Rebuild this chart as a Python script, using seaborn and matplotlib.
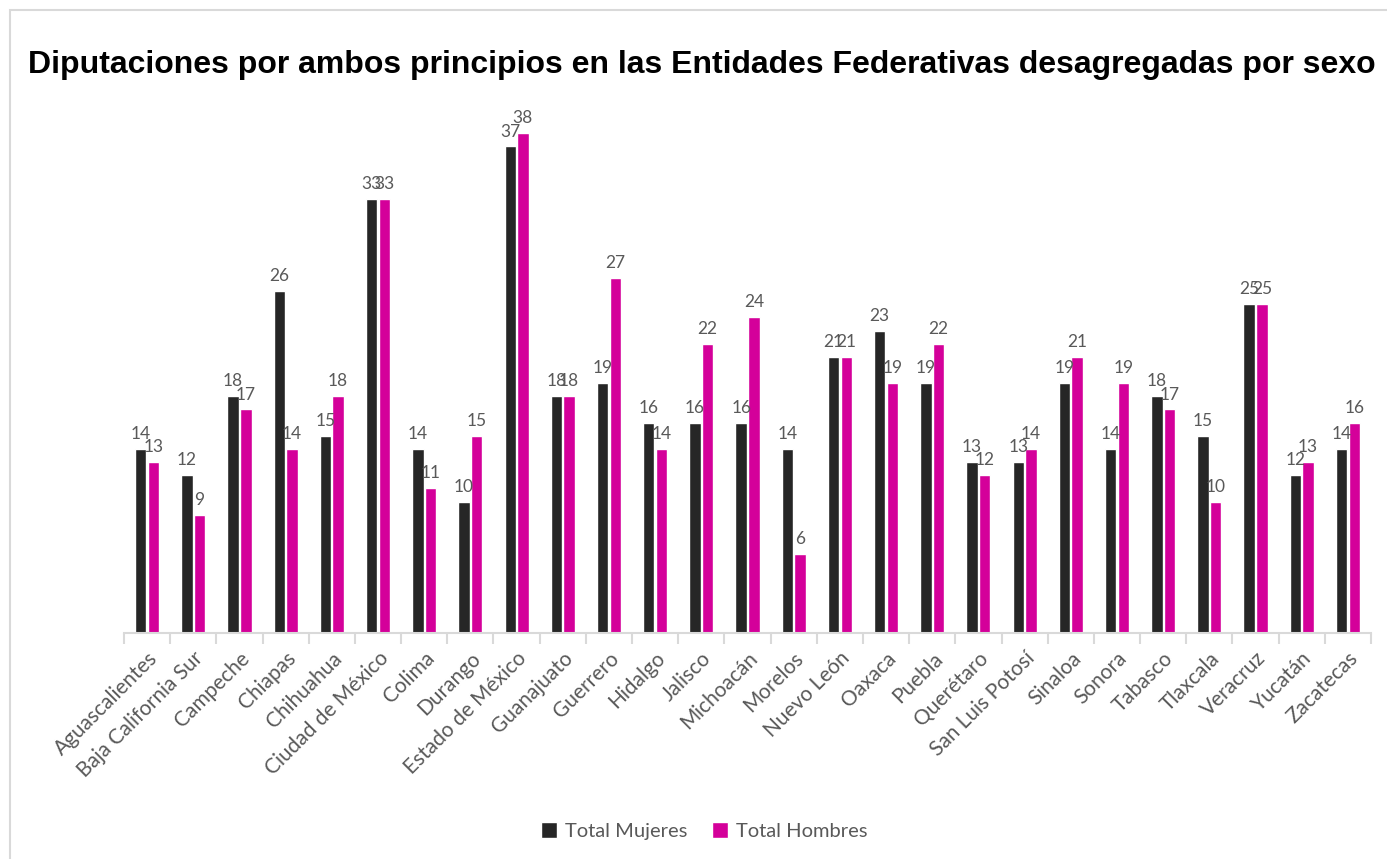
import matplotlib

matplotlib.use("Agg")

import matplotlib.pyplot as plt
import pandas as pd
import seaborn as sns
from matplotlib.patches import Rectangle

estados = [
    "Aguascalientes", "Baja California Sur", "Campeche", "Chiapas", "Chihuahua",
    "Ciudad de México", "Colima", "Durango", "Estado de México", "Guanajuato",
    "Guerrero", "Hidalgo", "Jalisco", "Michoacán", "Morelos", "Nuevo León",
    "Oaxaca", "Puebla", "Querétaro", "San Luis Potosí", "Sinaloa", "Sonora",
    "Tabasco", "Tlaxcala", "Veracruz", "Yucatán", "Zacatecas",
]
mujeres = [14, 12, 18, 26, 15, 33, 14, 10, 37, 18, 19, 16, 16, 16, 14, 21,
           23, 19, 13, 13, 19, 14, 18, 15, 25, 12, 14]
hombres = [13, 9, 17, 14, 18, 33, 11, 15, 38, 18, 27, 14, 22, 24, 6, 21,
           19, 22, 12, 14, 21, 19, 17, 10, 25, 13, 16]
series = ["Total Mujeres", "Total Hombres"]
colores = ["#262626", "#D4009A"]

df = pd.DataFrame({
    "estado": estados * 2,
    "valor": mujeres + hombres,
    "serie": [series[0]] * len(estados) + [series[1]] * len(estados),
})

sns.set_theme(style="white")
plt.rcParams["font.family"] = ["Lato", "DejaVu Sans"]

fig = plt.figure(figsize=(13.87, 8.59), dpi=100)
ax = fig.add_axes([124 / 1387, 226 / 859, 1247 / 1387, 526 / 859])

sns.barplot(
    data=df, x="estado", y="valor", hue="serie", hue_order=series,
    palette=colores, width=0.55, gap=0.1, saturation=1, ax=ax, legend=True,
)

for cont in ax.containers:
    ax.bar_label(cont, padding=5, fontsize=12.5, color="#595959")

ax.set_ylim(0, 40)
ax.set_xlim(-0.5, len(estados) - 0.5)
ax.set_yticks([])
ax.set_xlabel("")
ax.set_ylabel("")
for side in ["top", "right", "left"]:
    ax.spines[side].set_visible(False)
ax.spines["bottom"].set_color("#D9D9D9")
ax.spines["bottom"].set_linewidth(1.5)

ax.set_xticks(range(len(estados)))
ax.set_xticklabels(estados, rotation=45, ha="right", rotation_mode="anchor",
                   fontsize=15, color="#595959")
ax.tick_params(axis="x", which="major", length=0, pad=11)
ax.set_xticks([i - 0.5 for i in range(len(estados) + 1)], minor=True)
ax.tick_params(axis="x", which="minor", length=8, width=1.5, color="#D9D9D9",
               bottom=True)

ax.legend(loc="center", ncol=2, frameon=False, fontsize=14.5,
          handlelength=0.8, handleheight=0.8, handletextpad=0.4,
          columnspacing=1.2, labelcolor="#595959")
leg = ax.get_legend()
leg.set_bbox_to_anchor((704 / 1387, 1 - 831 / 859), transform=fig.transFigure)

fig.text(702 / 1387, 1 - 65 / 859,
         "Diputaciones por ambos principios en las Entidades Federativas desagregadas por sexo",
         ha="center", va="center", fontsize=23, fontweight="bold",
         family=["Liberation Sans", "DejaVu Sans"], color="black")

fig.patches.append(Rectangle((10 / 1387, -0.1), 1.2, 1 - 10 / 859 + 0.1,
                             transform=fig.transFigure, fill=False,
                             edgecolor="#D9D9D9", linewidth=1.5))

fig.savefig("out.png", dpi=100)
plt.close(fig)
